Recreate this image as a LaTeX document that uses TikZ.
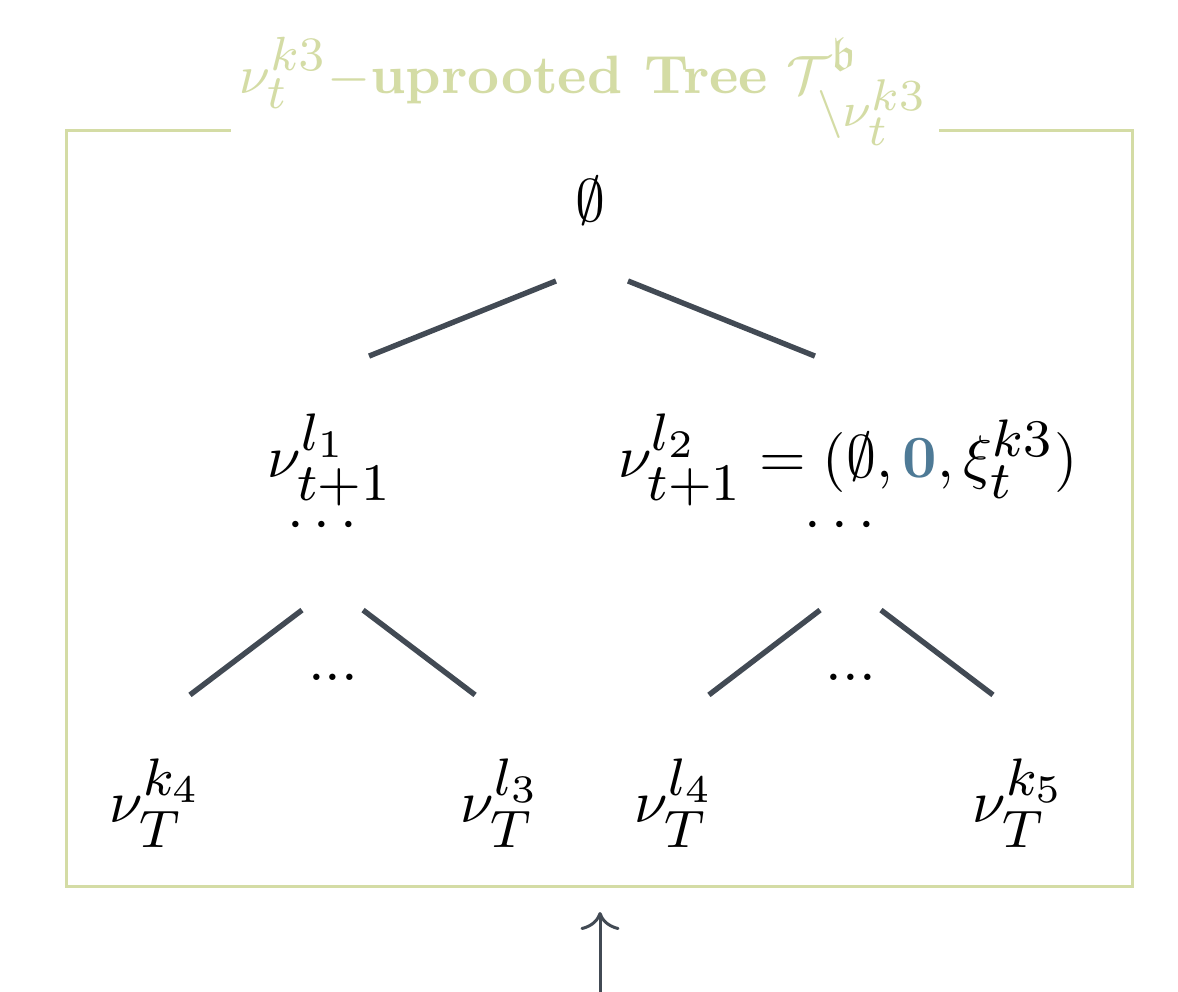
\RequirePackage{fix-cm}
\documentclass[tikz,border=0pt]{standalone}
\usepackage{amsmath}
\usepackage{amssymb}
\usetikzlibrary{arrows.meta}
\DeclareMathSizes{10}{10}{8.8}{6.5}
\DeclareMathSizes{9}{9}{8}{7.4}
\definecolor{framegreen}{RGB}{212,220,165}
\definecolor{edgegray}{RGB}{66,74,84}
\definecolor{zeroblue}{RGB}{78,122,150}

\begin{document}
\begin{tikzpicture}[
    edge/.style={line width=0.9pt, edgegray},
    lbl/.style={anchor=base, inner sep=0pt},
    arr/.style={line width=0.5pt, edgegray, -{To[width=6.5pt,length=3pt]}},
  ]
\useasboundingbox (0,0) rectangle (6.901,-5.811);

% Frame and title
\draw[framegreen, line width=0.5pt] (0.392,-0.767) rectangle (6.637,-5.196);
\node[lbl, inner xsep=1.5pt, fill=white, text=framegreen, font=\small] (title) at (3.427,-0.545)
    {$\nu_t^{k3}-$\textbf{uprooted Tree} $\mathcal{T}^{\mathfrak{b}}_{\backslash\nu_t^{k3}}$};

% Tree nodes
\node[lbl] (root) at (3.462,-1.300) {$\emptyset$};
\node[lbl] (nA) at (1.933,-2.800) {$\nu^{l_1}_{t+1}$};
\node[lbl] (nB) at (4.968,-2.800)
    {$\nu^{l_2}_{t+1} = (\emptyset, \textcolor{zeroblue}{\mathbf{0}}, \xi_t^{k3})$};
\node[lbl] (dA) at (1.916,-3.163) {$\cdots$};
\node[lbl] (dB) at (4.950,-3.163) {$\cdots$};
\node[lbl] (sA) at (1.951,-3.989) {...};
\node[lbl] (sB) at (4.985,-3.989) {...};

% Leaves
\node[lbl] (kA) at (0.914,-4.821) {$\nu_T^{k_4}$};
\node[lbl] (lA) at (2.935,-4.821) {$\nu_T^{l_3}$};
\node[lbl] (lB) at (3.954,-4.821) {$\nu_T^{l_4}$};
\node[lbl] (kB) at (5.970,-4.821) {$\nu_T^{k_5}$};

% Edges
\draw[edge] ([shift={(-0.205,-0.346)}]root.base) -- ([shift={(0.229,0.714)}]nA.base);
\draw[edge] ([shift={(0.217,-0.346)}]root.base) -- ([shift={(-0.194,0.714)}]nB.base);
\draw[edge] ([shift={(-0.147,-0.411)}]dA.base) -- ([shift={(0.199,0.750)}]kA.base);
\draw[edge] ([shift={(0.211,-0.411)}]dA.base) -- ([shift={(-0.152,0.750)}]lA.base);
\draw[edge] ([shift={(-0.146,-0.411)}]dB.base) -- ([shift={(0.199,0.750)}]lB.base);
\draw[edge] ([shift={(0.211,-0.411)}]dB.base) -- ([shift={(-0.153,0.750)}]kB.base);

% Input arrow
\coordinate (feed) at (3.515,-5.811);
\coordinate (fb) at (3.515,-5.196);
\draw[arr, shorten >=0.147cm] (feed) -- (fb);
\end{tikzpicture}
\end{document}
